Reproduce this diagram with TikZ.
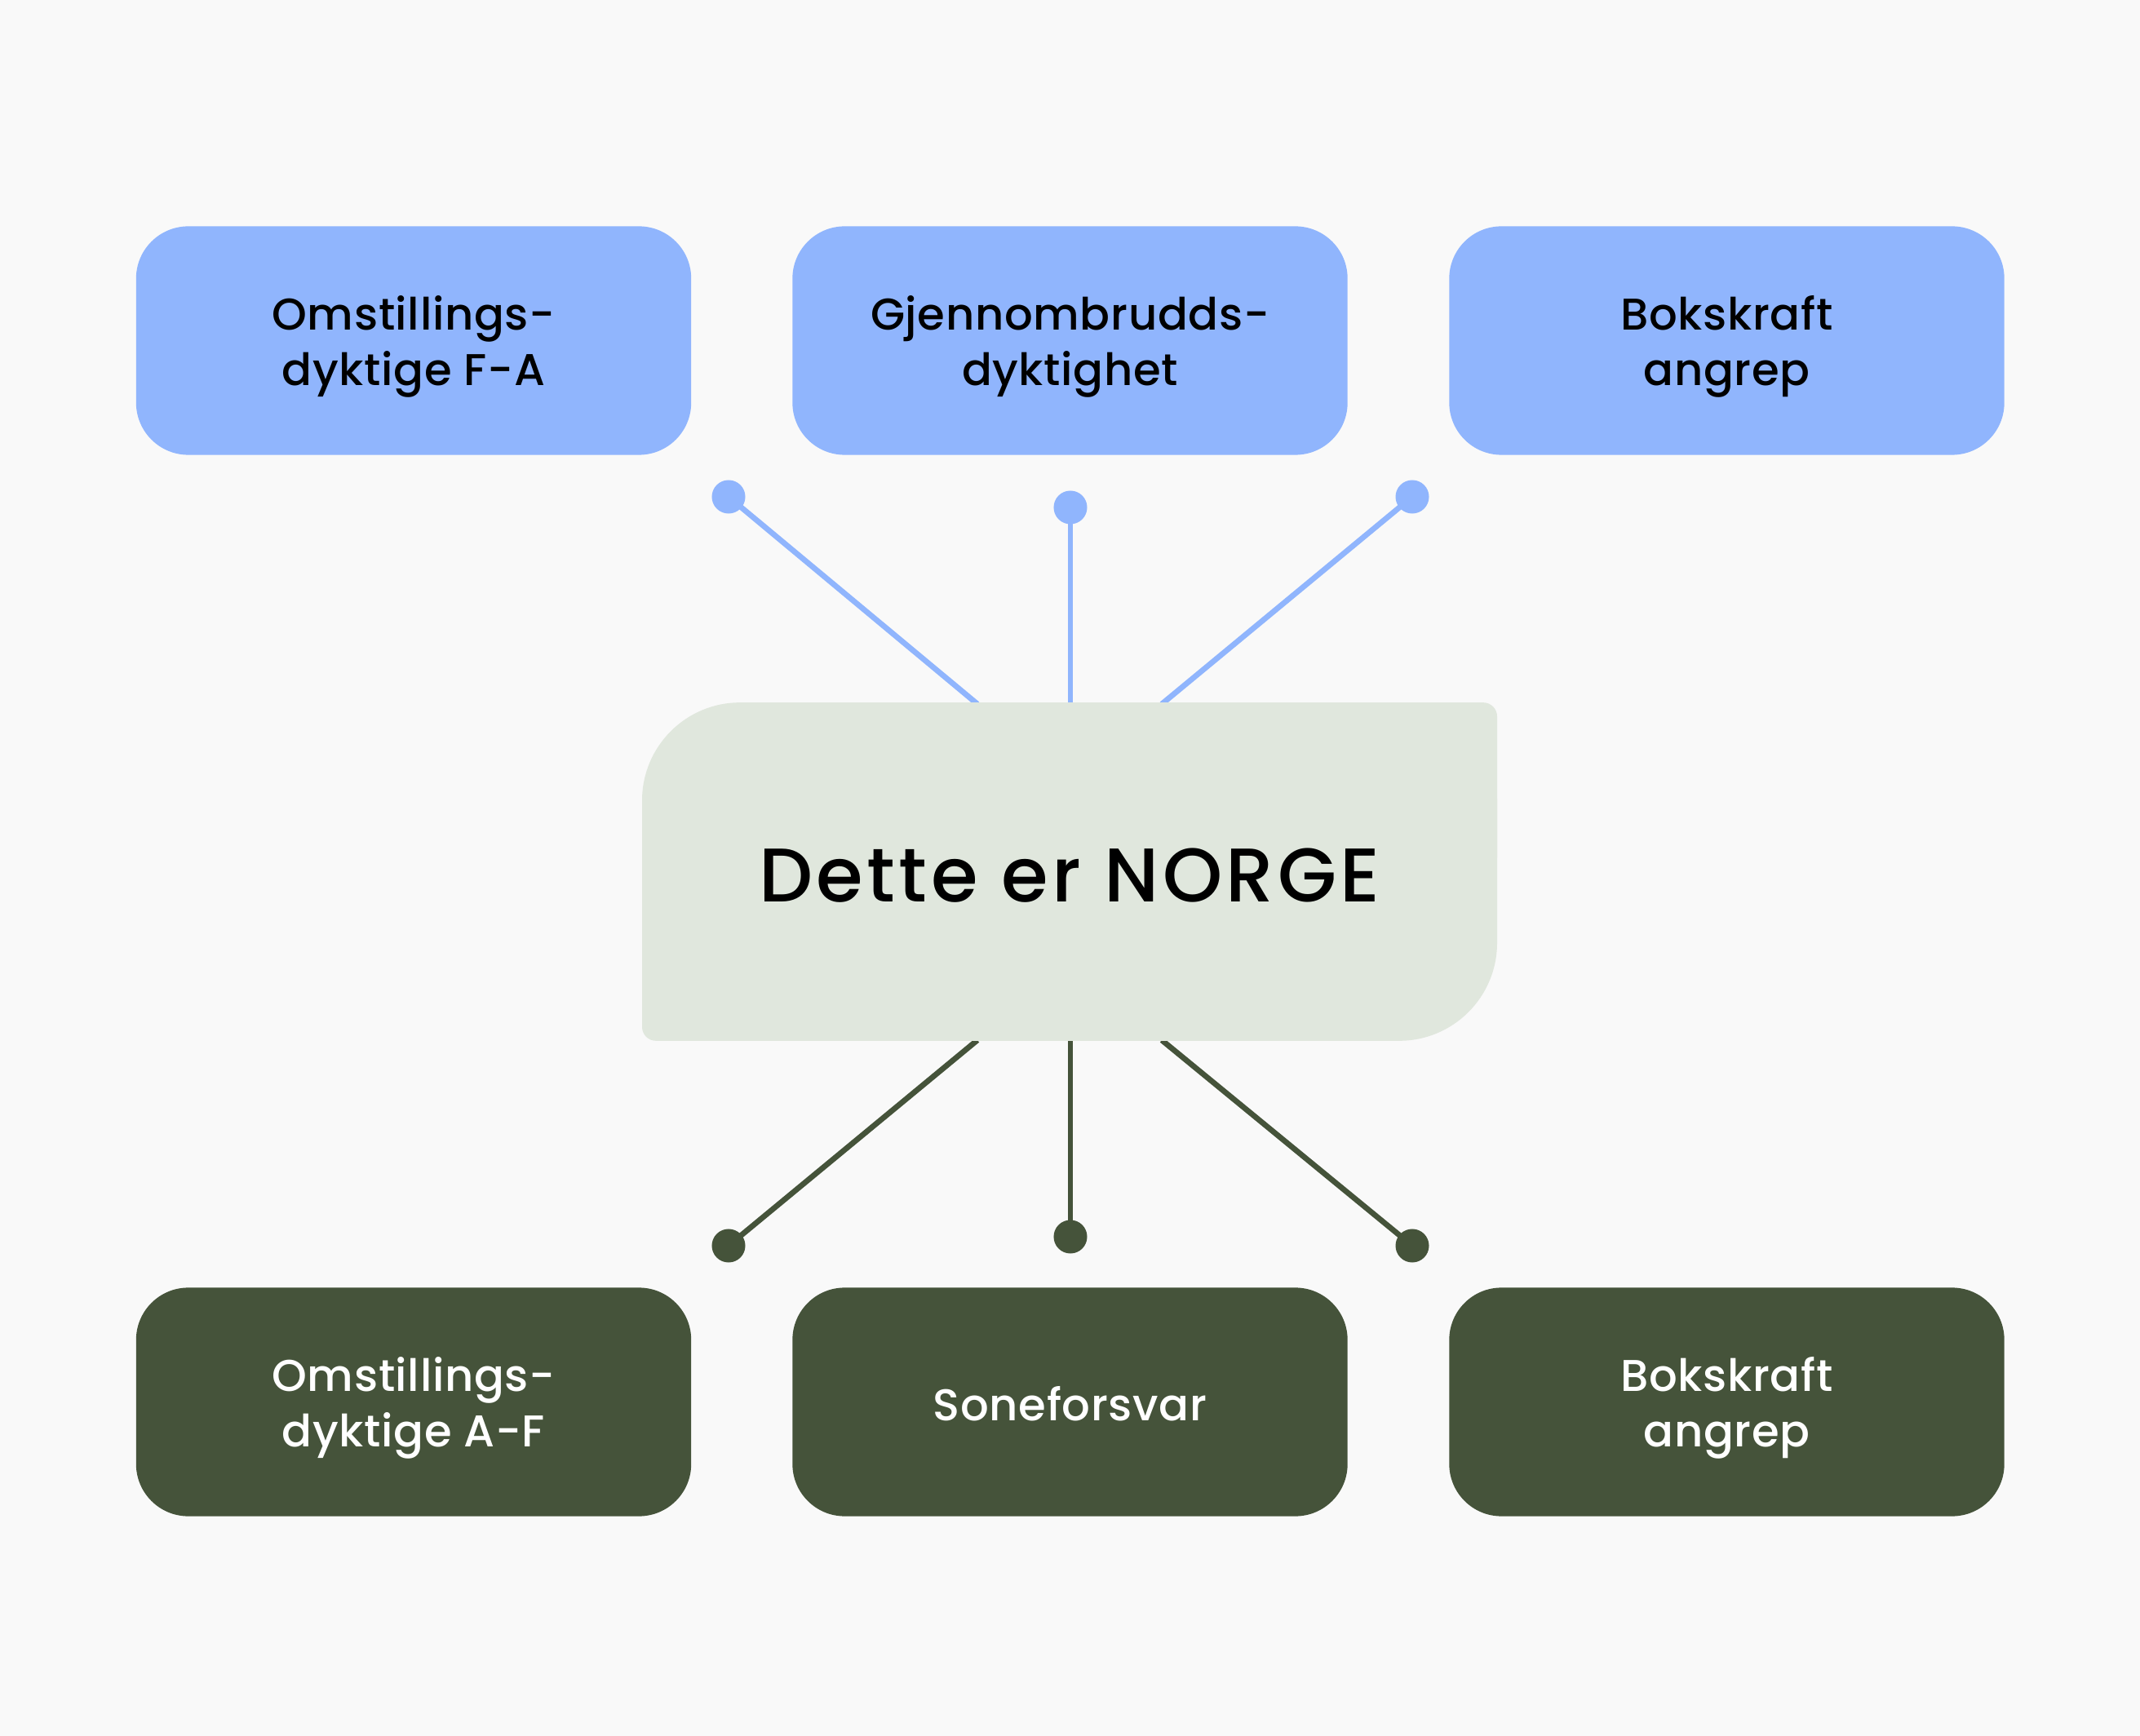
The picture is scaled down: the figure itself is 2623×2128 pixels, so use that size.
\documentclass[tikz,border=0pt]{standalone}
\usepackage{fontspec}
\IfFontExistsTF{Poppins Medium}{\setmainfont{Poppins Medium}}{\setmainfont{Poppins}[FakeBold=0.5]}
\usetikzlibrary{backgrounds}
\definecolor{bgc}{HTML}{F9F9F9}
\definecolor{blueb}{HTML}{90B5FD}
\definecolor{greenb}{HTML}{45533A}
\definecolor{centerc}{HTML}{E0E7DD}
\newcommand{\topstrut}{\rule{0pt}{16pt}}
\tikzset{
  boxbase/.style={rounded corners=0.64cm, minimum width=6.8cm, minimum height=2.8cm, align=center, inner sep=0pt,
    font=\fontsize{15.5}{19.4}\selectfont\addfontfeatures{LetterSpace=1.2}},
  topbox/.style={boxbase, fill=blueb, text=black},
  botbox/.style={boxbase, fill=greenb, text=white},
  dotb/.style={circle, fill=blueb, minimum size=0.41cm, inner sep=0pt},
  dotg/.style={circle, fill=greenb, minimum size=0.41cm, inner sep=0pt},
  linkb/.style={draw=blueb, line width=0.068cm},
  linkg/.style={draw=greenb, line width=0.068cm},
}
\begin{document}
\begin{tikzpicture}[x=0.01cm, y=-0.01cm]
\useasboundingbox (0,0) rectangle (2623,2128);

% top boxes
\node[topbox] (t1) at (507,417.5) {\topstrut Omstillings-\\dyktige F-A};
\node[topbox] (t2) at (1311.5,417.5) {\topstrut Gjennombrudds-\\dyktighet};
\node[topbox] (t3) at (2116.5,417.5) {\topstrut Bokskraft\\angrep};

% bottom boxes
\node[botbox] (b1) at (507,1718.5) {\topstrut Omstillings-\\dyktige A-F};
\node[botbox] (b2) at (1311.5,1718.5) {\rule{0pt}{13pt}Soneforsvar};
\node[botbox] (b3) at (2116.5,1718.5) {\topstrut Bokskraft\\angrep};

% center
\node[minimum width=10.46cm, minimum height=4.13cm, inner sep=0pt,
  font=\fontsize{26.5}{30}\selectfont\addfontfeatures{LetterSpace=4.8}] (c) at (1311,1068.5) {\rule{0pt}{21pt}Dette er NORGE};

\coordinate (ct1) at (1198,863);
\coordinate (ct2) at (1312,863);
\coordinate (ct3) at (1424,863);
\coordinate (cb1) at (1198,1275);
\coordinate (cb2) at (1312,1275);
\coordinate (cb3) at (1424,1275);

% dots
\node[dotb] (d1) at (893,609) {};
\node[dotb] (d2) at (1312,622) {};
\node[dotb] (d3) at (1731,609) {};
\node[dotg] (e1) at (893,1527) {};
\node[dotg] (e2) at (1312,1516) {};
\node[dotg] (e3) at (1731,1527) {};

\begin{scope}[on background layer]
\fill[bgc] (0,0) rectangle (2623,2128);
\draw[linkb] (d1.center) -- (ct1);
\draw[linkb] (d2.center) -- (ct2);
\draw[linkb] (d3.center) -- (ct3);
\draw[linkg] (e1.center) -- (cb1);
\draw[linkg] (e2.center) -- (cb2);
\draw[linkg] (e3.center) -- (cb3);
\fill[centerc, rounded corners=1.2cm] (c.south west) rectangle (c.north east);
\fill[centerc, rounded corners=0.17cm] (c.center) rectangle (c.north east);
\fill[centerc, rounded corners=0.17cm] (c.center) rectangle (c.south west);
\end{scope}
\end{tikzpicture}
\end{document}
